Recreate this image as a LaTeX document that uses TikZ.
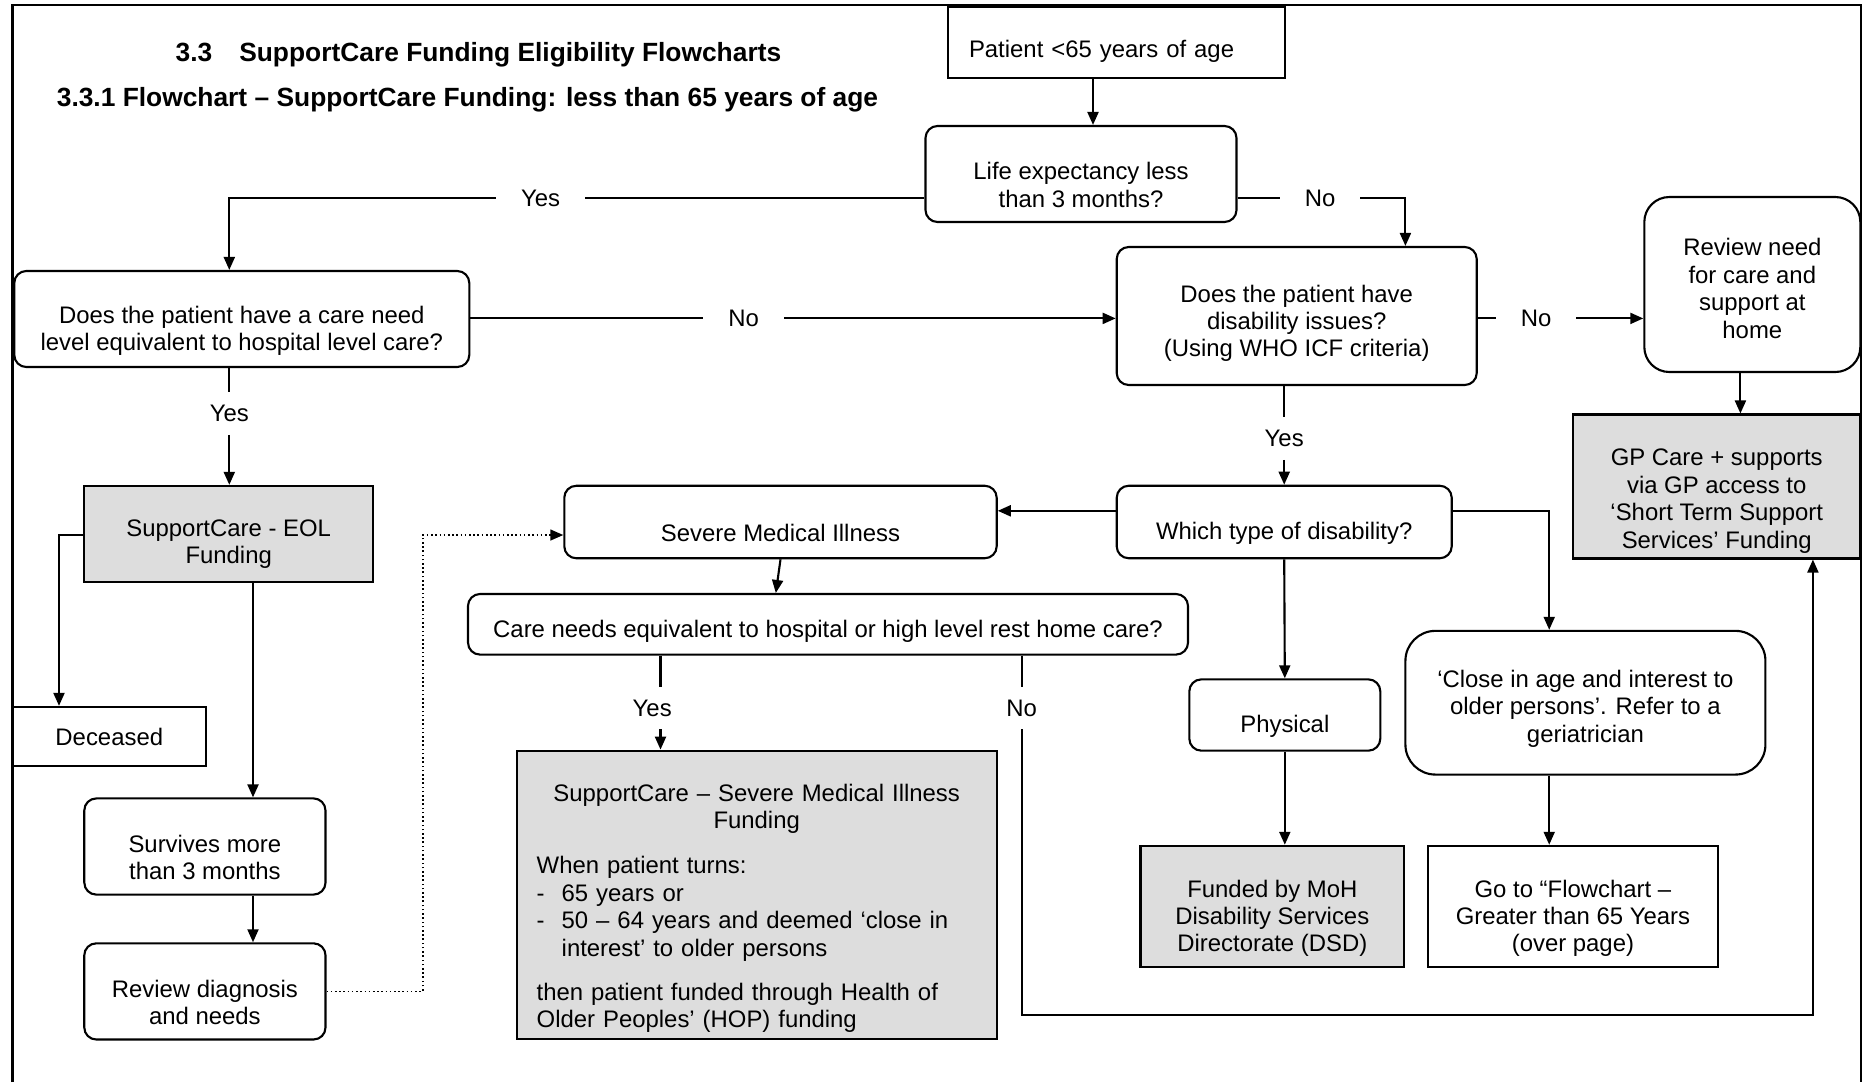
\documentclass[tikz,border=0pt]{standalone}
\usepackage{fontspec}
\setmainfont{Liberation Sans}
\usepackage{tikz}
\usetikzlibrary{positioning,arrows.meta}
\definecolor{fundgray}{RGB}{221,221,221}
\newcommand{\tstrut}[1][3.9mm]{\rule{0pt}{#1}}

\begin{document}
\begin{tikzpicture}[line width=0.6pt,
    every node/.style={font=\fontsize{6.8}{7.8}\selectfont, align=center},
    qbox/.style={draw, rounded corners=0.12cm, inner xsep=0.1cm, inner ysep=0.02cm},
    sqbox/.style={draw, inner xsep=0.1cm, inner ysep=0.02cm},
    fundbox/.style={draw, fill=fundgray, inner xsep=0.1cm, inner ysep=0.02cm},
    lbl/.style={inner xsep=0.24cm, inner ysep=0.12cm},
    headfont/.style={font=\fontsize{7.5}{9}\selectfont\bfseries, anchor=west, inner sep=0pt},
    arr/.style={-{Triangle[length=0.13cm,width=0.11cm]}},
    dotarr/.style={arr, dash pattern=on 0.45pt off 0.75pt, line width=0.45pt}]

    \useasboundingbox (0,0) rectangle (18.63,-10.82);

    % Frame and headings
    \draw (0.125,-10.82) |- (18.61,-0.05) -- (18.61,-10.82);
    \node[headfont] (head) at (1.746,-0.547) {3.3\hspace{0.27cm}SupportCare Funding Eligibility Flowcharts};
    \node[headfont] (subhead) at (0.558,-1.0) {3.3.1 Flowchart – SupportCare Funding: less than 65 years of age};

    % Level 0
    \node[sqbox, minimum width=3.37cm, minimum height=0.71cm, text width=2.95cm, inner xsep=0.21cm, align=left] (patient) at (11.165,-0.425) {\tstrut[3.4mm]Patient <65 years of age};
    \node[qbox, minimum width=3.11cm, minimum height=0.96cm] (life) at (10.81,-1.74) {\tstrut Life expectancy less\\than 3 months?};

    % Level 1
    \node[qbox, minimum width=4.55cm, minimum height=0.96cm] (care) at (2.418,-3.19) {\tstrut[4.1mm]Does the patient have a care need\\level equivalent to hospital level care?};
    \node[qbox, minimum width=3.6cm, minimum height=1.38cm] (disab) at (12.967,-3.16) {\tstrut[3.2mm]Does the patient have\\disability issues?\\(Using WHO ICF criteria)};
    \node[qbox, rounded corners=0.25cm, minimum width=2.16cm, minimum height=1.75cm] (review) at (17.523,-2.845) {\tstrut[2.5mm]Review need\\for care and\\support at\\home};
    \node[fundbox, minimum width=2.875cm, minimum height=1.44cm] (gp) at (17.167,-4.865) {\tstrut[4.6mm]GP Care + supports\\via GP access to\\‘Short Term Support\\Services’ Funding};

    % Level 2
    \node[fundbox, minimum width=2.887cm, minimum height=0.962cm] (eol) at (2.287,-5.34) {\tstrut[3.65mm]SupportCare - EOL\\Funding};
    \node[qbox, minimum width=4.324cm, minimum height=0.725cm] (severe) at (7.805,-5.22) {\tstrut Severe Medical Illness};
    \node[qbox, minimum width=3.35cm, minimum height=0.725cm] (which) at (12.842,-5.22) {\tstrut Which type of disability?};
    \node[qbox, minimum width=7.2cm, minimum height=0.606cm] (cneeds) at (8.28,-6.243) {\tstrut[3.2mm]Care needs equivalent to hospital or high level rest home care?};

    % Level 3
    \node[sqbox, minimum width=1.925cm, minimum height=0.594cm] (deceased) at (1.093,-7.366) {Deceased};
    \node[qbox, minimum width=1.91cm, minimum height=0.713cm] (physical) at (12.848,-7.15) {\tstrut Physical};
    \node[qbox, rounded corners=0.3cm, minimum width=3.6cm, minimum height=1.437cm] (close) at (15.854,-7.027) {\tstrut[2.9mm]‘Close in age and interest to\\older persons’. Refer to a\\geriatrician};
    \node[qbox, minimum width=2.412cm, minimum height=0.962cm] (survives) at (2.049,-8.465) {\tstrut Survives more\\than 3 months};
    \node[qbox, minimum width=2.412cm, minimum height=0.962cm] (revdiag) at (2.049,-9.914) {\tstrut Review diagnosis\\and needs};
    \node[fundbox, minimum width=4.8cm, minimum height=2.887cm, text width=4.4cm, inner xsep=0.2cm, align=left] (smi) at (7.567,-8.95) {%
        \centering\tstrut[4.4mm]SupportCare – Severe Medical Illness\\Funding\par
        \raggedright\vspace{0.18cm}
        When patient turns:\\
        \makebox[0.25cm][l]{-}65 years or\\
        \makebox[0.25cm][l]{-}50 – 64 years and deemed ‘close in\\
        \hspace*{0.25cm}interest’ to older persons\par
        \vspace{0.17cm}
        then patient funded through Health of\\
        Older Peoples’ (HOP) funding};
    \node[fundbox, minimum width=2.637cm, minimum height=1.212cm] (moh) at (12.723,-9.064) {\tstrut[4.1mm]Funded by MoH\\Disability Services\\Directorate (DSD)};
    \node[sqbox, minimum width=2.899cm, minimum height=1.212cm] (goto) at (15.729,-9.064) {\tstrut[4.1mm]Go to “Flowchart –\\Greater than 65 Years\\(over page)};

    % Yes / No labels
    \node[lbl] (yes1) at (5.405,-1.984) {Yes};
    \node[lbl] (no1) at (13.2,-1.984) {No};
    \node[lbl] (no2) at (7.437,-3.184) {No};
    \node[lbl] (no3) at (15.36,-3.184) {No};
    \node[lbl] (yes4) at (2.293,-4.135) {Yes};
    \node[lbl] (yes2) at (12.842,-4.384) {Yes};
    \node[lbl] (yes3) at (6.522,-7.08) {Yes};
    \node[lbl] (no4) at (10.217,-7.08) {No};
    \coordinate (nobend) at (18.129,-10.146);

    % Connectors
    \draw[arr] (patient.south -| 10.93,0) -- (life.north -| 10.93,0);
    \draw (life.west |- yes1) -- (yes1);
    \draw[arr] (yes1) -| (care.north -| yes4);
    \draw (life.east |- no1) -- (no1);
    \draw[arr] (no1) -| (disab.north -| 14.054,0);
    \draw (care.east |- no2) -- (no2);
    \draw[arr] (no2) -- (disab.west |- no2);
    \draw (disab.east |- no3) -- (no3);
    \draw[arr] (no3) -- (review.west |- no3);
    \draw[arr] (review.south -| 17.404,0) -- (gp.north -| 17.404,0);
    \draw (disab.south -| yes2) -- (yes2);
    \draw[arr] (yes2) -- (which.north);
    \draw[arr] (which.west |- 0,-5.108) -- (severe.east |- 0,-5.108);
    \draw[arr] (which.south) -- (physical.north);
    \draw[arr] (which.east |- 0,-5.108) -| (close.north -| 15.492,0);
    \draw[arr] (physical.south) -- (moh.north -| physical.south);
    \draw[arr] (close.south -| 15.492,0) -- (goto.north -| 15.492,0);
    \draw[arr] (severe.south) -- (cneeds.north -| 7.758,0);
    \draw (cneeds.south -| 6.605,0) -- (yes3.north -| 6.605,0);
    \draw[arr] (yes3.south -| 6.605,0) -- (smi.north -| 6.605,0);
    \draw (cneeds.south -| no4) -- (no4);
    \draw[arr] (no4) |- (nobend) -- (gp.south -| nobend);
    \draw (care.south -| yes4) -- (yes4);
    \draw[arr] (yes4) -- (eol.north -| yes4);
    \draw[arr] (eol.west |- 0,-5.35) -| (deceased.north -| 0.59,0);
    \draw[arr] (eol.south -| 2.53,0) -- (survives.north -| 2.53,0);
    \draw[arr] (survives.south -| 2.53,0) -- (revdiag.north -| 2.53,0);
    \draw[dotarr] (revdiag.east) -- ++(0.962,0) |- ([yshift=-1.3mm]severe.west);
\end{tikzpicture}
\end{document}
